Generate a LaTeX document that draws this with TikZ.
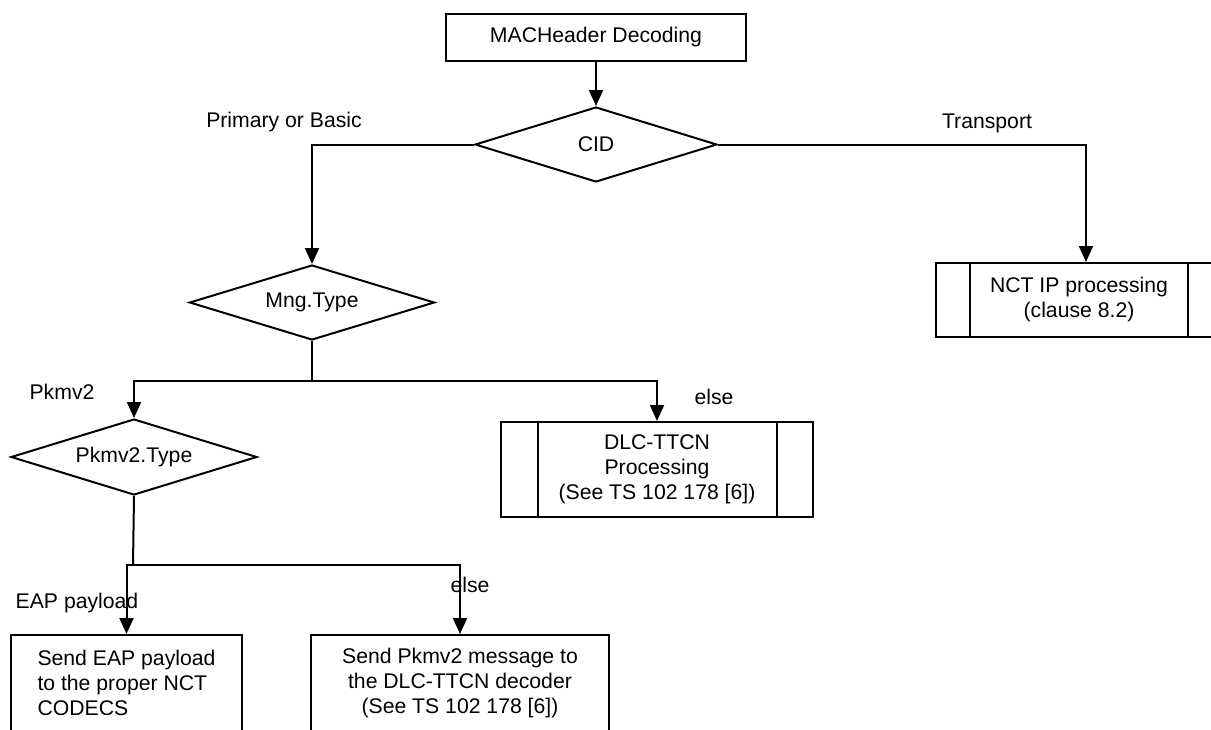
\documentclass[tikz,border=0pt]{standalone}
\usepackage{fontspec}
\setmainfont{Liberation Sans}
\usetikzlibrary{shapes, arrows.meta, positioning, calc}
\tikzstyle{block} = [draw, line width=1pt, rectangle, inner sep=0pt, align=center]
\tikzstyle{decision} = [draw, line width=1pt, diamond, aspect=3.3, inner sep=0pt]
\tikzstyle{flow} = [line width=1pt, -{Triangle[width=7pt,length=8pt]}]
\tikzstyle{joint} = [line width=1pt]
\tikzstyle{branch} = [inner sep=0pt]

\begin{document}
\begin{tikzpicture}[x=0.5pt, y=-0.5pt, font=\fontsize{10.6}{12.5}\selectfont]
	\useasboundingbox (0,0) rectangle (1211,729);
	\clip (0,0) rectangle (1211,729);
	% boxes and decisions
	\node [block, minimum width=150pt, minimum height=23.5pt] (mac) at (596,37.5) {MACHeader Decoding};
	\node [decision, minimum width=121pt, minimum height=37.5pt] (cid) at (596,144.5) {CID};
	\node [decision, minimum width=122.5pt, minimum height=37.5pt] (mng) at (312,302.5) {Mng.Type};
	\node [decision, minimum width=123pt, minimum height=38pt] (pkt) at (134,457) {Pkmv2.Type};
	\node [block, minimum width=143pt, minimum height=37pt] (nct) at (1079,300) {NCT IP processing\\(clause 8.2)};
	\node [block, minimum width=156pt, minimum height=47.5pt] (dlc) at (657,469.5) {DLC-TTCN\\Processing\\(See TS 102 178 [6])};
	\node [block, align=left, minimum width=115.5pt, minimum height=48pt] (eap) at (126.5,683) {Send EAP payload\\to the proper NCT\\CODECS};
	\node [block, minimum width=149pt, minimum height=48pt] (send) at (460,683) {Send Pkmv2 message to\\the DLC-TTCN decoder\\(See TS 102 178 [6])};
	% side bars
	\draw [joint] ($(nct.north west)+(35,0)$) -- ($(nct.south west)+(35,0)$);
	\draw [joint] ($(nct.north east)+(-35,0)$) -- ($(nct.south east)+(-35,0)$);
	\draw [joint] ($(dlc.north west)+(38,0)$) -- ($(dlc.south west)+(38,0)$);
	\draw [joint] ($(dlc.north east)+(-37,0)$) -- ($(dlc.south east)+(-37,0)$);
	% branch labels
	\node [branch] (lprim) at (284,122) {Primary or Basic};
	\node [branch] (ltrans) at (987,123) {Transport};
	\node [branch] (lpkm) at (62,392) {Pkmv2};
	\node [branch] (lelse) at (714,397) {else};
	\node [branch] (leap) at (77,603) {EAP payload};
	\node [branch] (lelse2) at (470,585) {else};
	% connectors
	\coordinate (nctin) at ($(nct.north)+(7,0)$);
	\coordinate (mngsplit) at (312,381);
	\coordinate (pksplit) at (133,565);
	\draw [flow] (mac) -- (cid);
	\draw [flow] (cid.west) -| (mng.north);
	\draw [flow] (cid.east) -| (nctin);
	\draw [joint] (mng.south) -- (mngsplit);
	\draw [flow] (mngsplit) -| (pkt.north);
	\draw [flow] (mngsplit) -| (dlc.north);
	\draw [joint] (pkt.south) -- (pksplit);
	\draw [flow] (pksplit) -| (eap.north);
	\draw [flow] (pksplit) -| (send.north);
\end{tikzpicture}
\end{document}
